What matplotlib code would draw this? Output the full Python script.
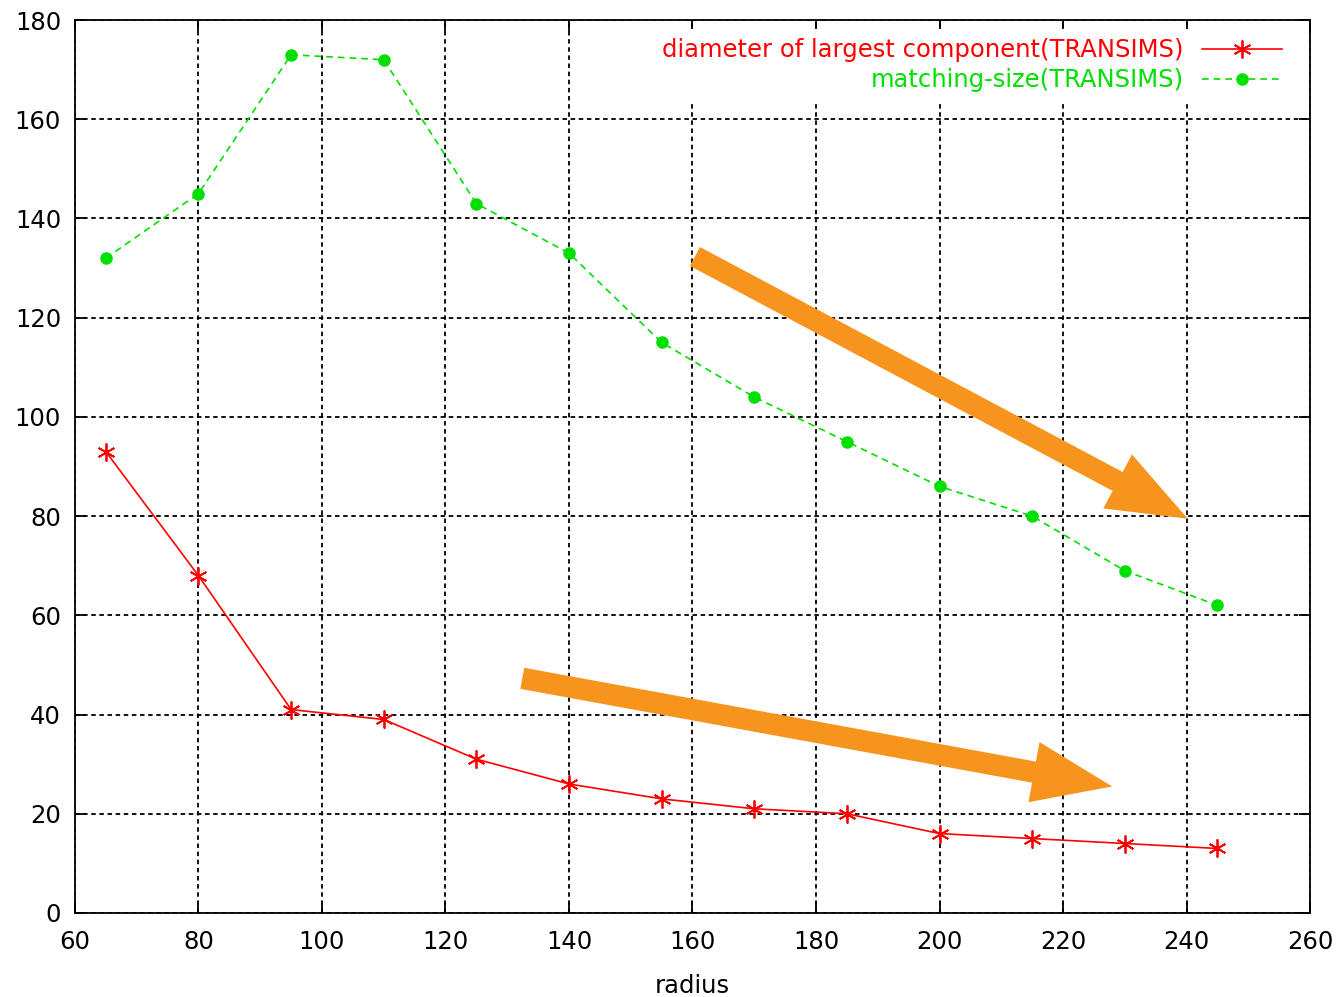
import matplotlib.pyplot as plt
from matplotlib.patches import FancyArrowPatch

# Daten
radius = [65, 80, 95, 110, 125, 140, 155, 170, 185, 200, 215, 230, 245]
diameter = [93, 68, 41, 39, 31, 26, 23, 21, 20, 16, 15, 14, 13]
matching = [132, 145, 173, 172, 143, 133, 115, 104, 95, 86, 80, 69, 62]

# Trendpfeile (Start, Ende)
arrow_upper = [(160, 132.6), (240.6, 79.2)]
arrow_lower = [(132, 47.4), (228.4, 25.4)]

plt.rcParams['font.family'] = ['DejaVu Sans']
fs = 17.5

fig = plt.figure(figsize=(13.41, 9.97), dpi=100)
ax = fig.add_axes([0.0559, 0.0843, 0.921, 0.8956])

ax.plot(radius, diameter, color='#ff0000', lw=1.2, marker=(6, 2, 0),
        markersize=13, markeredgewidth=1.3,
        label='diameter of largest component(TRANSIMS)')
ax.plot(radius, matching, color='#00e000', lw=1.2, ls=(0, (4, 3)),
        marker='o', markersize=8,
        label='matching-size(TRANSIMS)')

for (x0, y0), (x1, y1) in [arrow_upper, arrow_lower]:
    ax.add_patch(FancyArrowPatch((x0, y0), (x1, y1),
                                 arrowstyle='simple,head_length=2.6,head_width=2.0,tail_width=0.7',
                                 mutation_scale=22, color='#f7941d', lw=0, zorder=5))

ax.set_xlim(60, 260)
ax.set_ylim(0, 180)
ax.set_xticks(range(60, 261, 20))
ax.set_yticks(range(0, 181, 20))
ax.tick_params(direction='in', length=8, width=1.3, labelsize=fs, top=True, right=True)
ax.tick_params(axis='x', pad=12)
ax.tick_params(axis='y', pad=10)
ax.grid(True, color='black', ls=(0, (2.5, 2)), lw=1.3)
for s in ax.spines.values():
    s.set_linewidth(1.3)
ax.set_xlabel('radius', fontsize=fs, labelpad=15)

leg = ax.legend(loc='upper right', bbox_to_anchor=(0.992, 1.0), markerfirst=False,
                fontsize=fs, frameon=True, fancybox=False, edgecolor='none',
                framealpha=1, handlelength=3.3, borderaxespad=0.35,
                labelspacing=0.25, handletextpad=0.75)
for txt, line in zip(leg.get_texts(), leg.get_lines()):
    txt.set_color(line.get_color())

plt.savefig('out.png')
